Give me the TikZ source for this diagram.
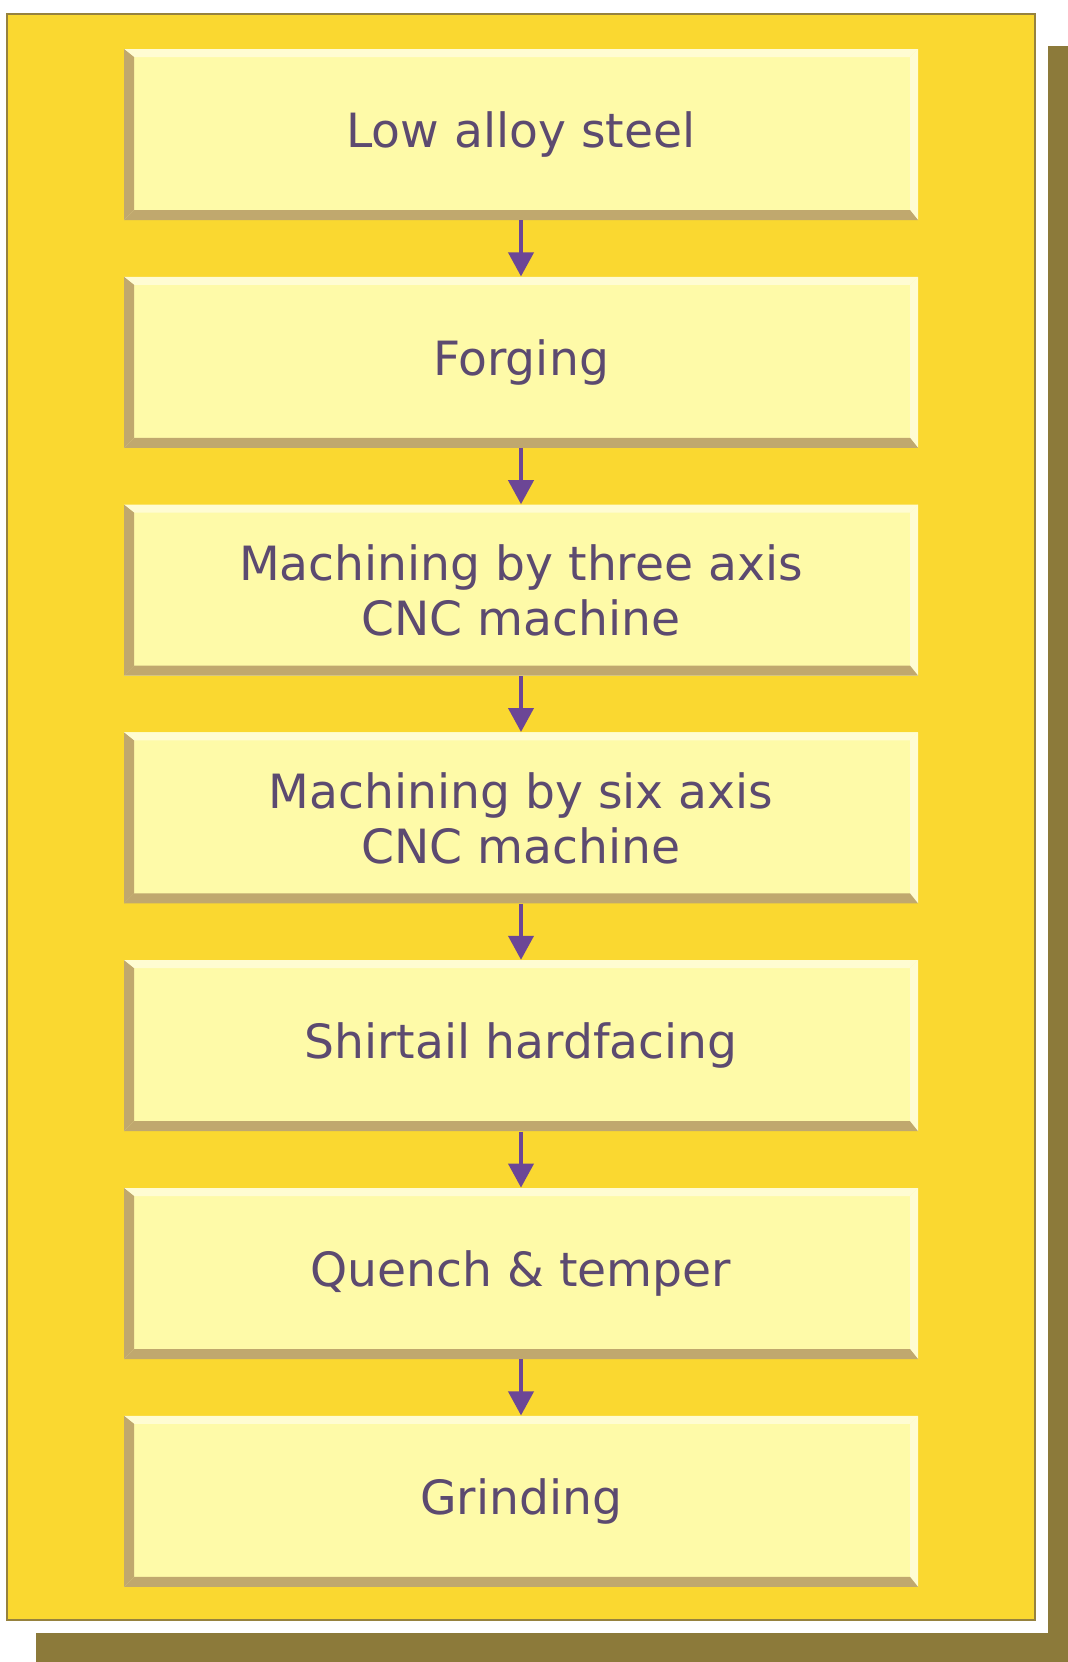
\documentclass[tikz,border=0pt]{standalone}
\usepackage{fontspec}
\setmainfont{DejaVu Sans}
\usetikzlibrary{arrows.meta}
\definecolor{panelyellow}{RGB}{250,216,48}
\definecolor{panelline}{RGB}{150,130,62}
\definecolor{shadowolive}{RGB}{140,122,58}
\definecolor{boxfill}{RGB}{254,250,168}
\definecolor{bevdark}{RGB}{192,168,110}
\definecolor{bevlight}{RGB}{255,252,210}
\definecolor{txt}{RGB}{92,74,112}
\definecolor{arrowc}{RGB}{108,70,150}
\begin{document}
\begin{tikzpicture}[x=0.5pt,y=-0.5pt,
  stepbox/.style={minimum width=397pt, minimum height=85.5pt, inner sep=0pt,
    fill=boxfill, text=txt, font=\fontsize{23.6}{27.5}\selectfont, align=center,
    path picture={
      \fill[bevlight] (path picture bounding box.north west) -- (path picture bounding box.north east)
        -- ([xshift=-4pt,yshift=-4pt]path picture bounding box.north east)
        -- ([xshift=5pt,yshift=-4pt]path picture bounding box.north west) -- cycle;
      \fill[bevlight] (path picture bounding box.north east) -- (path picture bounding box.south east)
        -- ([xshift=-4pt,yshift=5pt]path picture bounding box.south east)
        -- ([xshift=-4pt,yshift=-4pt]path picture bounding box.north east) -- cycle;
      \fill[bevdark] (path picture bounding box.south west) -- (path picture bounding box.north west)
        -- ([xshift=5pt,yshift=-4pt]path picture bounding box.north west)
        -- ([xshift=5pt,yshift=5pt]path picture bounding box.south west) -- cycle;
      \fill[bevdark] (path picture bounding box.south west) -- (path picture bounding box.south east)
        -- ([xshift=-4pt,yshift=5pt]path picture bounding box.south east)
        -- ([xshift=5pt,yshift=5pt]path picture bounding box.south west) -- cycle;
    }},
  flow/.style={draw=arrowc, line width=2pt, -{Triangle[width=12.5pt,length=12pt]}}]
\useasboundingbox (0,0) rectangle (1068,1662);
\fill[white] (0,0) rectangle (1068,1662);
\fill[shadowolive] (36,46) rectangle (1068,1662);
\fill[white] (0,0) rectangle (1048,1633);
\filldraw[fill=panelyellow, draw=panelline, line width=1pt] (7,14) rectangle (1035,1620);
\node[stepbox] (b1) at (521,134.5) {Low alloy steel};
\node[stepbox] (b2) at (521,362.3) {Forging};
\node[stepbox] (b3) at (521,590.1) {Machining by three axis\\CNC machine};
\node[stepbox] (b4) at (521,817.9) {Machining by six axis\\CNC machine};
\node[stepbox] (b5) at (521,1045.7) {Shirtail hardfacing};
\node[stepbox] (b6) at (521,1273.5) {Quench \& temper};
\node[stepbox] (b7) at (521,1501.3) {Grinding};
\foreach \a/\b in {b1/b2,b2/b3,b3/b4,b4/b5,b5/b6,b6/b7}
  \draw[flow] (\a.south) -- (\b.north);
\end{tikzpicture}
\end{document}
